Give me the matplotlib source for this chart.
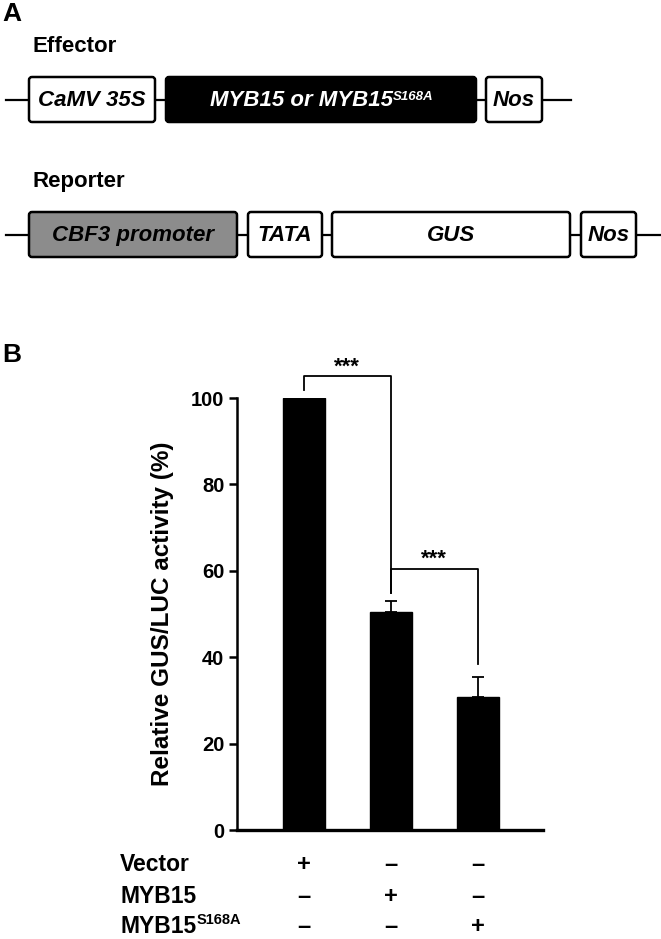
import matplotlib
matplotlib.use("Agg")
import matplotlib.pyplot as plt
from matplotlib.patches import FancyBboxPatch
import numpy as np

plt.rcParams['font.family'] = ['Liberation Sans', 'DejaVu Sans']
plt.rcParams['font.weight'] = 'bold'

# --- panel B data ---
groups = ["Vector", "MYB15", "MYB15 S168A"]
activity = [100.0, 50.4, 30.9]          # relative GUS/LUC activity (%)
activity_err = [0.0, 2.5, 4.6]          # upper SE
yticks = [0, 20, 40, 60, 80, 100]
row_labels = ["Vector", "MYB15", "MYB15"]
row_sup = [None, None, "S168A"]
row_signs = [["+", "\u2013", "\u2013"],
             ["\u2013", "+", "\u2013"],
             ["\u2013", "\u2013", "+"]]
sig_pairs = [(0, 1), (1, 2)]
sig_marks = ["***", "***"]
sig_levels = [105.0, 60.4]
sig_leg_bottom = [[101.9, 54.9], [54.9, 38.4]]

# --- panel A construct parts ---
effector_labels = ["CaMV 35S", "MYB15 or MYB15", "Nos"]
reporter_labels = ["CBF3 promoter", "TATA", "GUS", "Nos"]

W, H = 661, 939
fig = plt.figure(figsize=(W / 100, H / 100), dpi=100)

# overlay in pixel units for the schematic and panel letters
ov = fig.add_axes([0, 0, 1, 1])
ov.set_xlim(0, W)
ov.set_ylim(H, 0)
ov.axis("off")
ov.patch.set_alpha(0)


def draw_row(labels, spans, y0, y1, faces, tcols, line_x, row_y):
    ov.plot(line_x, [row_y, row_y], color="black", lw=1.6, zorder=1)
    arts = []
    for lab, (xa, xb), fc, tc in zip(labels, spans, faces, tcols):
        box = FancyBboxPatch((xa, y0), xb - xa, y1 - y0,
                             boxstyle="round,pad=0,rounding_size=3",
                             facecolor=fc, edgecolor="black", lw=1.8, zorder=2)
        ov.add_patch(box)
        arts.append(((xa + xb) / 2, (y0 + y1) / 2, lab, tc))
    return arts


eff = draw_row(effector_labels, [(29, 155), (166, 476), (486, 542)], 77, 122,
               ["white", "black", "white"], ["black", "white", "black"],
               [6, 571], 100)
rep = draw_row(reporter_labels, [(29, 237), (248, 322), (332, 570), (581, 636)], 212, 257,
               ["#8c8c8c", "white", "white", "white"], ["black"] * 4,
               [6, 661], 235)

for cx, cy, lab, tc in eff + rep:
    shift = -20 if lab.startswith("MYB15 or") else 0
    t = ov.text(cx + shift, cy + 1, lab, ha="center", va="center", fontsize=16,
                fontstyle="italic", fontweight="bold", color=tc, zorder=3)
    if lab.startswith("MYB15 or"):
        ov.annotate("S168A", xy=(1, 1), xycoords=t, xytext=(0.5, -1),
                    textcoords="offset points", ha="left", va="top",
                    fontsize=9.5, fontstyle="italic", fontweight="bold",
                    color=tc, zorder=3)

ov.text(2, 14, "A", fontsize=19, fontweight="bold", ha="left", va="center")
ov.text(2, 355, "B", fontsize=19, fontweight="bold", ha="left", va="center")
ov.text(32, 47, "Effector", fontsize=16, fontweight="bold", ha="left", va="center")
ov.text(32, 182, "Reporter", fontsize=16, fontweight="bold", ha="left", va="center")

# --- panel B bar chart ---
ax = fig.add_axes([237 / W, 1 - 830 / H, (543 - 237) / W, 432 / H])
x = np.arange(len(groups))
ax.bar(x, activity, width=0.49, color="black", edgecolor="black", zorder=2)
ax.errorbar(x, activity, yerr=[np.zeros(len(x)), activity_err], fmt="none",
            ecolor="black", elinewidth=1.3, capsize=4, capthick=1.3, zorder=3)
ax.set_xlim(-0.77, 2.75)
ax.set_ylim(0, 100)
ax.set_yticks(yticks)
ax.set_yticklabels([str(v) for v in yticks], fontsize=14.5, fontweight="bold")
ax.tick_params(axis="y", length=6, width=1.8, pad=3)
ax.set_xticks([])
ax.spines["top"].set_visible(False)
ax.spines["right"].set_visible(False)
ax.spines["left"].set_linewidth(1.8)
ax.spines["bottom"].set_linewidth(2.4)
ax.set_ylabel("Relative GUS/LUC activity (%)", fontsize=17.5, fontweight="bold",
              labelpad=12)

for (i, j), mark, lvl, (b0, b1) in zip(sig_pairs, sig_marks, sig_levels, sig_leg_bottom):
    ax.plot([x[i], x[i], x[j], x[j]], [b0, lvl, lvl, b1], color="black",
            lw=1.3, clip_on=False, zorder=4)
    ax.text((x[i] + x[j]) / 2, lvl + 2.2, mark, ha="center", va="center",
            fontsize=16, fontweight="bold", clip_on=False)

# treatment table under the axis
row_y = [-0.081, -0.153, -0.2245]
for ry, lab, sup, signs in zip(row_y, row_labels, row_sup, row_signs):
    t = ax.text(-0.382, ry, lab, transform=ax.transAxes, ha="left", va="center",
                fontsize=16.5, fontweight="bold")
    if sup:
        ax.annotate(sup, xy=(1, 1), xycoords=t, xytext=(0.5, 2.0),
                    textcoords="offset points", ha="left", va="top",
                    fontsize=10.5, fontweight="bold")
    for xi, s in zip(x, signs):
        ax.text(xi, ry, s, transform=ax.get_xaxis_transform(), ha="center",
                va="center", fontsize=17, fontweight="bold")

fig.savefig("out.png", dpi=100)
